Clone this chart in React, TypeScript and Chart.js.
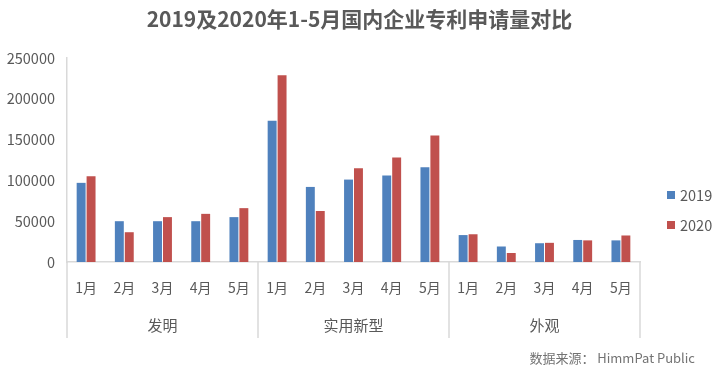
import React, { useEffect, useRef } from "react";
import { Chart, registerables } from "chart.js";

Chart.register(...registerables);

const TITLE = "2019及2020年1-5月国内企业专利申请量对比";
const SOURCE = "数据来源： HimmPat Public";
const months = ["1月", "2月", "3月", "4月", "5月"];
const groups = ["发明", "实用新型", "外观"];
const seriesNames = ["2019", "2020"];
const values2019 = [97000, 50000, 50000, 50000, 55000, 173000, 92000, 101000, 106000, 116000, 33000, 19000, 23000, 27000, 26500];
const values2020 = [105000, 36500, 55000, 59000, 66000, 229000, 62500, 115000, 128000, 155000, 34000, 11000, 23500, 26500, 32500];
const yTicks = [0, 50000, 100000, 150000, 200000, 250000];

const COLORS = ["#4F81BD", "#C0504D"];
const FONT = '"Noto Sans CJK SC", "Liberation Sans", sans-serif';
const TEXT = "#595959";
const LINE = "#D9D9D9";

const labels: string[] = [];
groups.forEach(() => months.forEach((m) => labels.push(m)));

const decorPlugin = {
  id: "decor",
  afterDraw(chart: any) {
    const ctx = chart.ctx;
    const area = chart.chartArea;
    const x = chart.scales.x;
    ctx.save();
    // title
    ctx.fillStyle = TEXT;
    ctx.font = `bold 21px ${FONT}`;
    ctx.textAlign = "center";
    ctx.textBaseline = "middle";
    ctx.fillText(TITLE, chart.width / 2, 19);

    // group separators & labels
    const n = months.length;
    const bounds: number[] = [area.left];
    for (let g = 1; g < groups.length; g++) {
      const a = x.getPixelForValue(g * n - 1);
      const b = x.getPixelForValue(g * n);
      bounds.push((a + b) / 2);
    }
    bounds.push(area.right);
    ctx.strokeStyle = LINE;
    ctx.lineWidth = 1.5;
    bounds.forEach((bx) => {
      ctx.beginPath();
      ctx.moveTo(Math.round(bx), area.bottom);
      ctx.lineTo(Math.round(bx), area.bottom + 76);
      ctx.stroke();
    });
    ctx.fillStyle = TEXT;
    ctx.font = `15px ${FONT}`;
    for (let g = 0; g < groups.length; g++) {
      ctx.fillText(groups[g], (bounds[g] + bounds[g + 1]) / 2, area.bottom + 63);
    }

    // legend
    ctx.font = `14.5px ${FONT}`;
    ctx.textAlign = "left";
    const ly = [195, 225];
    chart.data.datasets.forEach((ds: any, i: number) => {
      ctx.fillStyle = ds.backgroundColor;
      ctx.fillRect(667, ly[i] - 4, 8, 8);
      ctx.fillStyle = TEXT;
      ctx.fillText(ds.label, 680, ly[i]);
    });

    // source
    ctx.font = `13px ${FONT}`;
    ctx.fillStyle = "#737373";
    ctx.textAlign = "right";
    ctx.fillText(SOURCE, 695, 358);
    ctx.restore();
  },
};

export default function App() {
  const ref = useRef<HTMLCanvasElement>(null);
  useEffect(() => {
    if (!ref.current) return;
    const chart = new Chart(ref.current, {
      type: "bar",
      data: {
        labels,
        datasets: [
          { label: seriesNames[0], data: values2019, backgroundColor: COLORS[0] },
          { label: seriesNames[1], data: values2020, backgroundColor: COLORS[1] },
        ],
      },
      options: {
        animation: false,
        responsive: true,
        maintainAspectRatio: false,
        layout: { padding: { left: 0, right: 79, top: 58, bottom: 0 } },
        datasets: { bar: { categoryPercentage: 0.52, barPercentage: 0.9 } },
        plugins: {
          legend: { display: false },
          title: { display: false },
          tooltip: { enabled: false },
        },
        scales: {
          x: {
            grid: { display: false, drawTicks: false },
            border: { display: true, color: LINE, width: 1.5 },
            ticks: { color: TEXT, font: { size: 14, family: FONT }, padding: 17, maxRotation: 0, autoSkip: false },
            afterFit: (s: any) => {
              s.height = 112;
            },
          },
          y: {
            min: 0,
            max: 250000,
            afterBuildTicks: (s: any) => {
              s.ticks = yTicks.map((v) => ({ value: v }));
            },
            grid: { display: false, drawTicks: false },
            border: { display: true, color: LINE, width: 1.5 },
            ticks: {
              color: TEXT,
              font: { size: 14.5, family: FONT },
              padding: 12,
              callback: (v: any) => String(v),
            },
            afterFit: (s: any) => {
              s.width = 67;
            },
          },
        },
      },
      plugins: [decorPlugin],
    });
    return () => chart.destroy();
  }, []);
  return (
    <div style={{ position: "absolute", left: 0, top: 0, width: 719, height: 374, background: "#fff" }}>
      <canvas ref={ref} />
    </div>
  );
}
